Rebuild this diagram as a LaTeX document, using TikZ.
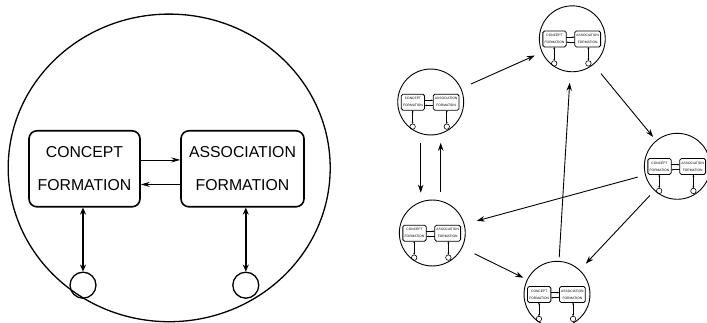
\documentclass[tikz,border=0pt]{standalone}
\usepackage{fontspec}
\setmainfont{Liberation Sans}
\usetikzlibrary{arrows.meta,calc,shapes.geometric}

\tikzset{
  ring/.style={draw, ellipse, line width=1.3pt, minimum width=322pt,
    minimum height=307.6pt, inner sep=0pt},
  fbox/.style={draw, line width=1.6pt, rounded corners=8pt, align=center,
    inner sep=0pt, font=\fontsize{15.8}{32.7}\selectfont},
  port/.style={draw, circle, line width=1.3pt, minimum size=26pt, inner sep=0pt},
  modarrow/.style={-{Stealth[length=9pt,width=5pt]}, line width=0.8pt},
  portarrow/.style={{Stealth[length=7pt,width=6pt]}-{Stealth[length=7pt,width=6pt]},
    line width=1.8pt},
  flowarrow/.style={-{Stealth[length=8pt,width=5.5pt]}, line width=0.9pt},
  % reduced copy of the module
  minilook/.style={scale=0.21, transform shape,
    ring/.style={draw, circle, line width=0.9pt, minimum size=314pt, inner sep=0pt},
    fbox/.append style={line width=0.8pt, rounded corners=1.6pt},
    port/.append style={line width=0.6pt},
    modarrow/.style={-{Stealth[length=2.2pt,width=1.6pt]}, line width=0.6pt},
    portarrow/.style={{Stealth[length=2pt,width=1.8pt]}-{Stealth[length=2pt,width=1.8pt]},
      line width=0.8pt}},
  pics/module/.style={code={
    \node[ring] (-ring) at (0,0) {};
    \node[fbox, minimum width=111pt, minimum height=76pt] (-cf) at (-84.7,-0.9)
      {CONCEPT\\FORMATION};
    \node[fbox, minimum width=123pt, minimum height=76pt] (-af) at (73.3,-0.9)
      {ASSOCIATION\\FORMATION};
    \node[port] (-pc) at (-86.2,-117.3) {};
    \node[port] (-pa) at (76.6,-117.3) {};
    \draw[modarrow] ($(-cf.east)!0.229!(-cf.north east)$)
      -- ($(-af.west)!0.229!(-af.north west)$);
    \draw[modarrow] ($(-af.west)!0.403!(-af.south west)$)
      -- ($(-cf.east)!0.403!(-cf.south east)$);
    \draw[portarrow] (-pc.north |- -cf.south) -- (-pc.north);
    \draw[portarrow] (-pa.north |- -af.south) -- (-pa.north);
  }}
}

\begin{document}
\begin{tikzpicture}[x=1pt, y=1pt]
  \useasboundingbox (0,0) rectangle (707,-323);

  % enlarged module
  \pic (M) at (169.2,-167.9) {module};

  % network of modules
  \pic[minilook] (A) at (430.7,-102) {module};
  \pic[minilook] (B) at (572.3,-38.8) {module};
  \pic[minilook] (C) at (677.3,-166.3) {module};
  \pic[minilook] (D) at (432.3,-233) {module};
  \pic[minilook] (E) at (557,-294.3) {module};

  \coordinate (Aleft) at ([xshift=-10pt]A-ring.south);
  \coordinate (Aright) at ([xshift=10pt]A-ring.south);

  \draw[flowarrow, shorten <=11pt, shorten >=8pt] (A-ring) -- (B-ring);
  \draw[flowarrow, shorten <=12pt, shorten >=5pt] (B-ring) -- (C-ring);
  \draw[flowarrow, shorten <=8.3pt, shorten >=7.3pt] (Aleft) -- (Aleft |- D-ring.north);
  \draw[flowarrow, shorten <=8.3pt, shorten >=7.7pt] (Aright |- D-ring.north) -- (Aright);
  \draw[flowarrow, shorten <=8pt, shorten >=13pt] (C-ring) -- (D-ring);
  \draw[flowarrow, shorten <=7pt, shorten >=9pt] (C-ring) -- (E-ring);
  \draw[flowarrow, shorten <=14pt, shorten >=4.5pt] (D-ring) -- (E-ring);
  \draw[flowarrow, shorten <=4pt, shorten >=11pt] (E-ring) -- (B-ring);
\end{tikzpicture}
\end{document}
